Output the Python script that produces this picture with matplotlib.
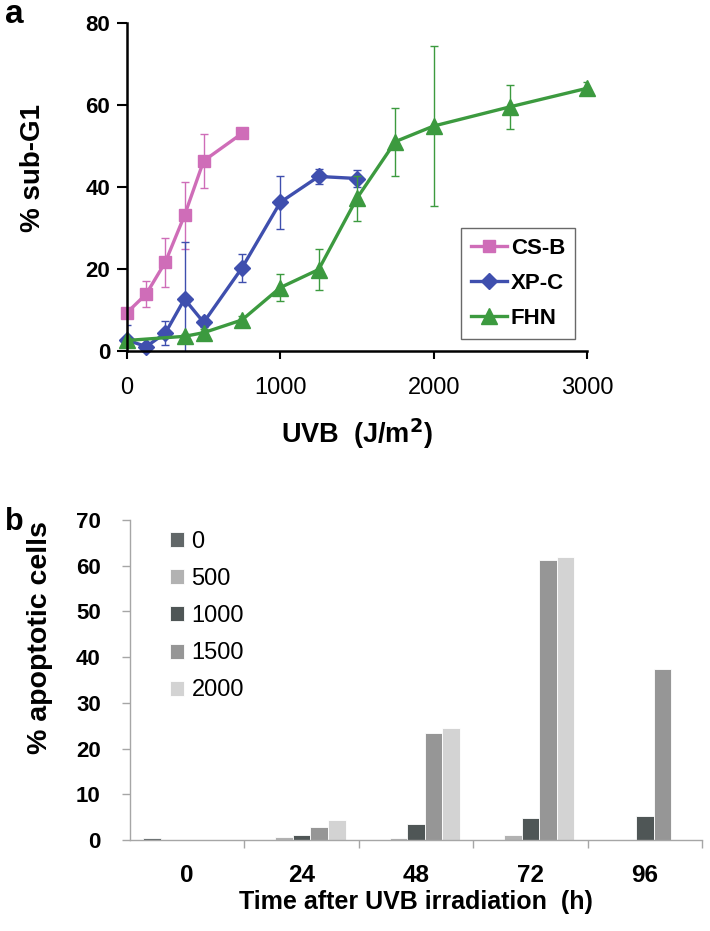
"""
Figure: sub-G1 dose response (a) and apoptotic cells over time (b).
"""
import numpy as np
import matplotlib
matplotlib.use("Agg")
import matplotlib.pyplot as plt
from matplotlib.ticker import MultipleLocator, FixedLocator

plt.rcParams["font.family"] = ["Liberation Sans", "DejaVu Sans"]

# ---- panel a data ----
csb_x = [0, 125, 250, 375, 500, 750]
csb_y = [9.3, 13.8, 21.6, 33.0, 46.3, 53.0]
csb_e = [0.0, 3.2, 6.0, 8.2, 6.6, 0.0]

xpc_x = [0, 125, 250, 375, 500, 750, 1000, 1250, 1500]
xpc_y = [2.6, 1.0, 4.3, 12.6, 6.9, 20.2, 36.2, 42.5, 42.0]
xpc_e = [3.6, 0.0, 3.0, 14.0, 1.0, 3.4, 6.5, 1.8, 2.0]

fhn_x = [0, 375, 500, 750, 1000, 1250, 1500, 1750, 2000, 2500, 3000]
fhn_y = [2.5, 3.5, 4.4, 7.5, 15.4, 19.8, 37.2, 51.0, 54.8, 59.5, 64.0]
fhn_e = [0.5, 0.5, 1.0, 1.0, 3.2, 5.0, 5.5, 8.3, 19.6, 5.4, 1.6]

# ---- panel b data ----
times = ["0", "24", "48", "72", "96"]
doses = ["0", "500", "1000", "1500", "2000"]
apop = {
    "0":    [0.4, 0.0, 0.0, 0.0, 0.0],
    "500":  [0.0, 0.6, 0.4, 1.2, 0.0],
    "1000": [0.0, 1.2, 3.5, 4.9, 5.2],
    "1500": [0.0, 2.9, 23.5, 61.3, 37.3],
    "2000": [0.0, 4.4, 24.6, 62.0, 0.0],
}
bar_colors = ["#616768", "#b2b2b2", "#4f5656", "#969696", "#d3d3d3"]

W, H = 710, 931
fig = plt.figure(figsize=(W / 100, H / 100), dpi=100)


def rect(x0, y0, x1, y1):
    return [x0 / W, 1 - y1 / H, (x1 - x0) / W, (y1 - y0) / H]


# ================= panel a =================
ax = fig.add_axes(rect(127, 22.7, 587, 350.7))
series = [
    (csb_x, csb_y, csb_e, "#cf6db8", "s", 8.5, "CS-B"),
    (xpc_x, xpc_y, xpc_e, "#3f4fae", "D", 8.5, "XP-C"),
    (fhn_x, fhn_y, fhn_e, "#3c9a3f", "^", 11.5, "FHN"),
]
for xs, ys, es, col, mk, ms, lab in series:
    ax.errorbar(xs, ys, yerr=es, fmt="none", ecolor=col, elinewidth=1.0,
                capsize=3, capthick=1.0)
    ax.plot(xs, ys, color=col, lw=2.4, marker=mk, ms=ms, mec=col,
            label=lab, clip_on=False)
ax.set_xlim(0, 3000)
ax.set_ylim(0, 80)
ax.spines["top"].set_visible(False)
ax.spines["right"].set_visible(False)
for s in ("left", "bottom"):
    ax.spines[s].set_linewidth(1.8)
ax.xaxis.set_major_locator(FixedLocator([0, 1000, 2000, 3000]))
ax.yaxis.set_major_locator(MultipleLocator(20))
ax.tick_params(axis="y", direction="out", length=7, width=1.5, pad=5)
ax.tick_params(axis="x", direction="out", length=6, width=1.5, pad=13)
for t in ax.get_yticklabels():
    t.set_fontsize(16)
    t.set_fontweight("bold")
for t in ax.get_xticklabels():
    t.set_fontsize(17)
ax.set_ylabel("% sub-G1", fontsize=20, fontweight="bold")
ax.yaxis.set_label_coords(-0.176, 0.557)
ax.set_xlabel("UVB  (J/m$^{\\mathbf{2}}$)", fontsize=19.5, fontweight="bold")
ax.xaxis.set_label_coords(0.5, -0.2)
leg = ax.legend(loc="upper left",
                bbox_to_anchor=((461 - 127) / 460, (350.7 - 228) / 328),
                frameon=True, fancybox=False, edgecolor="#444444",
                prop={"weight": "bold", "size": 16}, handlelength=1.6,
                handletextpad=0.2, borderpad=0.45, labelspacing=0.62,
                borderaxespad=0)
leg.get_frame().set_linewidth(1.0)
fig.text(5 / W, 1 - 23 / H, "a", fontsize=24, fontweight="bold")

# ================= panel b =================
bx = fig.add_axes(rect(130, 520, 702, 840))
n = len(doses)
bw = 0.154
xc = np.arange(len(times))
for i, (d, col) in enumerate(zip(doses, bar_colors)):
    bx.bar(xc + (i - (n - 1) / 2) * bw, apop[d], width=bw, color=col,
           edgecolor="white", linewidth=0.6, label=d)
bx.set_xlim(-0.5, len(times) - 0.5)
bx.set_ylim(0, 70)
bx.spines["top"].set_visible(False)
bx.spines["right"].set_visible(False)
for s in ("left", "bottom"):
    bx.spines[s].set_color("#a6a6a6")
    bx.spines[s].set_linewidth(1.0)
bx.yaxis.set_major_locator(MultipleLocator(10))
bx.set_xticks(xc)
bx.set_xticklabels(times)
bx.xaxis.set_minor_locator(FixedLocator(np.arange(0.5, len(times), 1.0)))
bx.tick_params(axis="y", direction="out", length=6, width=1.0,
               color="#a6a6a6", pad=15)
bx.tick_params(axis="x", which="major", length=0, pad=17)
bx.tick_params(axis="x", which="minor", direction="out", length=6, width=1.0,
               color="#a6a6a6")
for t in bx.get_yticklabels():
    t.set_fontsize(16)
    t.set_fontweight("bold")
for t in bx.get_xticklabels():
    t.set_fontsize(17.5)
    t.set_fontweight("bold")
bx.set_ylabel("% apoptotic cells", fontsize=20.5, fontweight="bold")
bx.yaxis.set_label_coords(-0.135, 0.634)
bx.set_xlabel("Time after UVB irradiation  (h)", fontsize=18, fontweight="bold")
bx.xaxis.set_label_coords(0.5, -0.155)
bx.legend(loc="upper left", bbox_to_anchor=(0.054, 0.995), frameon=False,
          prop={"size": 17}, handlelength=0.6, handleheight=0.6,
          handletextpad=0.3, labelspacing=0.64, borderaxespad=0)
fig.text(5 / W, 1 - 530 / H, "b", fontsize=22, fontweight="bold")

fig.savefig("out.png", dpi=100)
